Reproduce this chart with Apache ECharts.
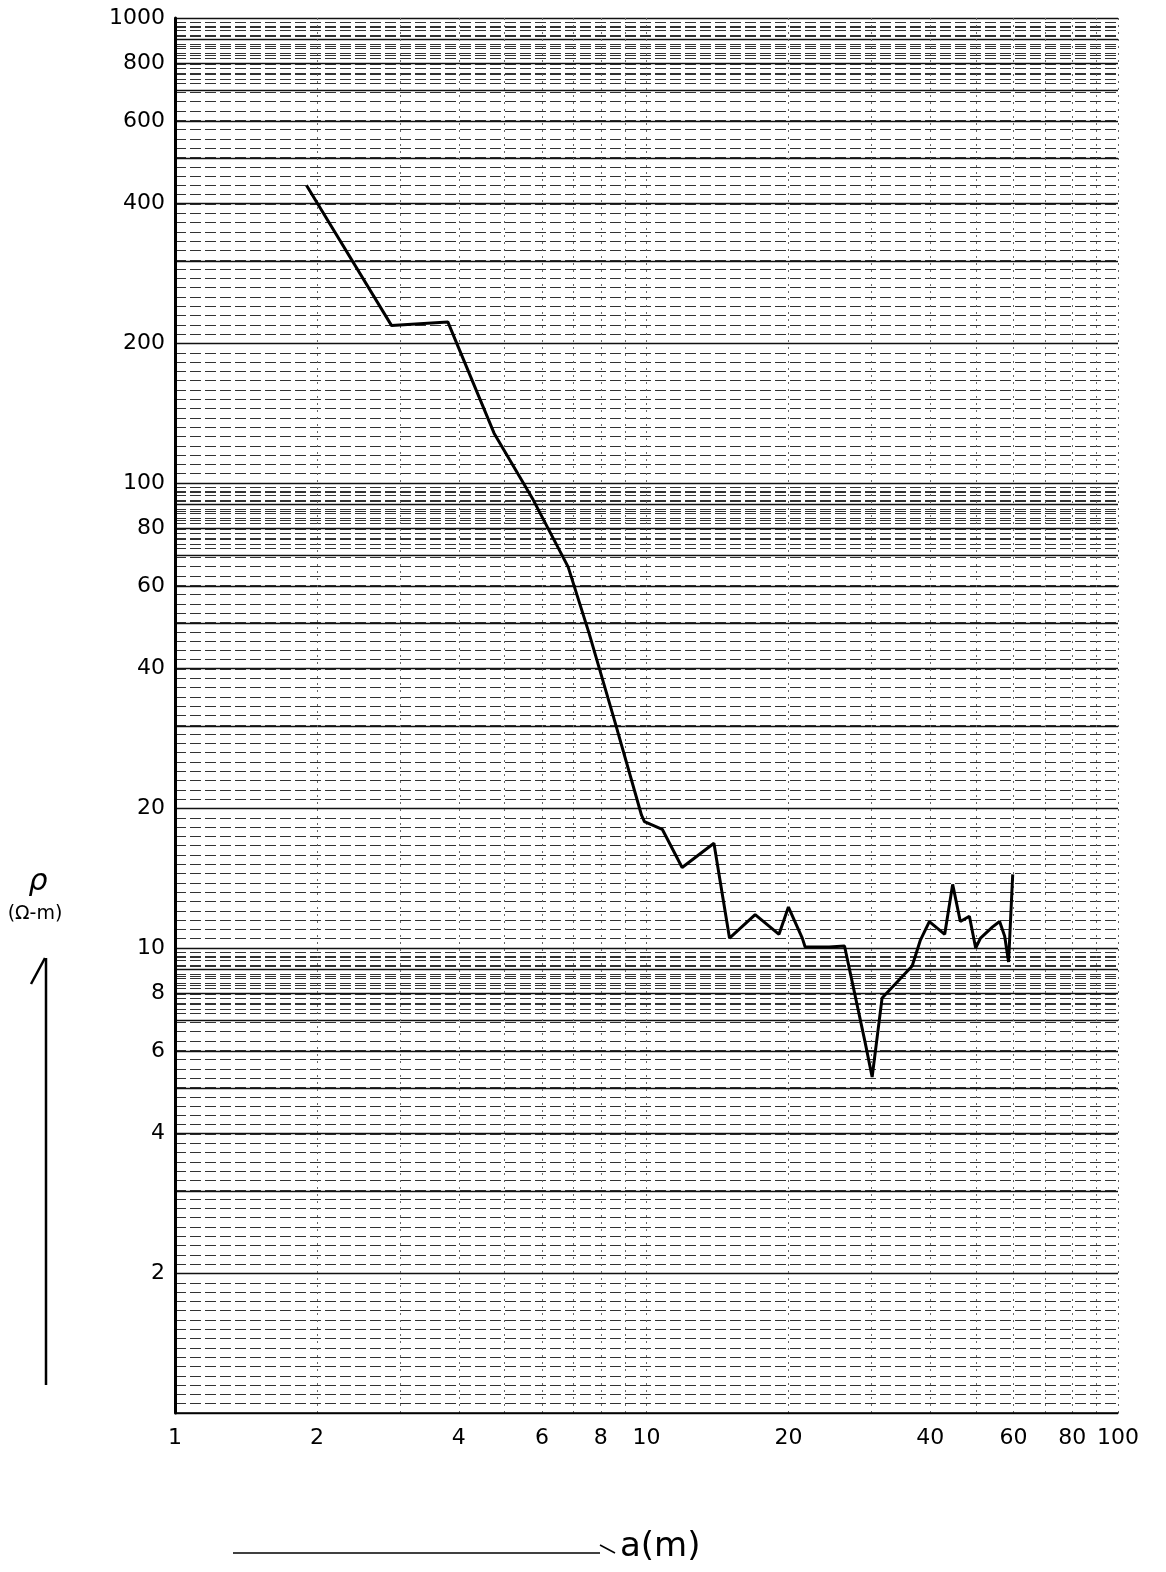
<!DOCTYPE html>
<html>
<head>
<meta charset="utf-8">
<script src="https://cdn.jsdelivr.net/npm/echarts@6/dist/echarts.min.js"></script>
<style>
  html, body { margin: 0; padding: 0; background: #fff; }
  #chart { width: 1166px; height: 1572px; }
</style>
</head>
<body>
<div id="chart"></div>
<script>
// Electrode spacing a (m) and apparent resistivity rho (ohm-m)
const spacingA = [1.90, 2.88, 3.79, 4.75, 5.75, 6.82, 7.55, 8.55, 9.76, 9.9,
  10.8, 11.9, 13.9, 15.0, 17.0, 19.1, 20.0, 21.4, 21.7, 24.4,
  26.3, 29.1, 30.1, 31.6, 36.6, 38.1, 39.8, 42.9, 44.6, 46.3,
  48.4, 49.9, 51.1, 54.2, 56.1, 57.5, 58.6, 59.8];
const resistivity = [437, 218, 222, 128, 92, 66, 47.6, 30.9, 19.3, 18.7,
  18.0, 14.9, 16.8, 10.5, 11.8, 10.7, 12.25, 10.5, 10.05, 10.05,
  10.1, 6.25, 5.28, 7.81, 9.15, 10.4, 11.4, 10.7, 13.7, 11.4,
  11.7, 10.0, 10.5, 11.1, 11.4, 10.6, 9.33, 14.4];

// Tick labels
const xTickLabels = [1, 2, 4, 6, 8, 10, 20, 40, 60, 80, 100];
const yTickLabels = [2, 4, 6, 8, 10, 20, 40, 60, 80, 100, 200, 400, 600, 800, 1000];

// Log-paper ruling
const decades = [1, 10, 100];
const ruleSolid = [];
decades.forEach(d => { for (let k = 1; k <= 9; k++) ruleSolid.push(k * d); });
ruleSolid.push(1000);
const ruleDashed = [];
for (let i = 0; i <= 150; i++) ruleDashed.push(Math.pow(10, i / 50));
[10, 100, 1000].forEach(d => { for (let f = 0.74; f < 0.99; f += 0.02) ruleDashed.push(+(f * d).toFixed(4)); });
const ruleVertical = [];
[1, 10].forEach(d => { for (let k = 2; k <= 10; k++) ruleVertical.push(k * d); });

const FONT = 'DejaVu Sans';
const chart = echarts.init(document.getElementById('chart'), null, { renderer: 'canvas' });

const hiddenAxis = {
  axisLine: { show: false },
  axisTick: { show: false },
  axisLabel: { show: false }
};
const plainNumber = v => String(Math.round(v * 1000) / 1000);

chart.setOption({
  backgroundColor: '#fff',
  animation: false,
  grid: { left: 175, right: 48, top: 18, bottom: 159, outerBoundsMode: 'none', containLabel: false },
  xAxis: [
    {
      type: 'log', logBase: 10, min: 1, max: 100, position: 'bottom',
      axisLine: { show: true, lineStyle: { color: '#000', width: 1.5 } },
      axisTick: { show: false },
      axisLabel: { customValues: xTickLabels, formatter: plainNumber, margin: 14, fontSize: 22, fontFamily: FONT, color: '#000' },
      splitLine: { show: false }
    },
    Object.assign({
      type: 'log', logBase: 10, min: 1, max: 100, position: 'top',
      splitLine: { show: true, lineStyle: { color: '#666', width: 1, type: [2, 5] } }
    }, hiddenAxis, { axisTick: { show: false, customValues: ruleVertical } })
  ],
  yAxis: [
    {
      type: 'log', logBase: 10, min: 1, max: 1000, position: 'left',
      axisLine: { show: true, lineStyle: { color: '#000', width: 3 } },
      axisTick: { show: false },
      axisLabel: { customValues: yTickLabels, formatter: plainNumber, margin: 10, fontSize: 22, fontFamily: FONT, color: '#000' },
      splitLine: { show: false }
    },
    Object.assign({
      type: 'log', logBase: 10, min: 1, max: 1000, position: 'right',
      splitLine: { show: true, lineStyle: { color: '#333', width: 1, type: [11, 4] } }
    }, hiddenAxis, { axisTick: { show: false, customValues: ruleDashed } }),
    Object.assign({
      type: 'log', logBase: 10, min: 1, max: 1000, position: 'right',
      splitLine: { show: true, lineStyle: { color: '#111', width: 1.3, type: 'solid' } }
    }, hiddenAxis, { axisTick: { show: false, customValues: ruleSolid } })
  ],
  series: [
    {
      type: 'line',
      xAxisIndex: 0, yAxisIndex: 0,
      data: spacingA.map((a, i) => [a, resistivity[i]]),
      showSymbol: false,
      smooth: false,
      lineStyle: { color: '#000', width: 3 },
      z: 10
    }
  ],
  graphic: [
    { type: 'text', x: 38, y: 882, style: { text: 'ρ', font: 'italic 30px "DejaVu Sans"', fill: '#000', textAlign: 'center', textVerticalAlign: 'middle' } },
    { type: 'text', x: 35, y: 914, style: { text: '(Ω-m)', font: '19px "DejaVu Sans"', fill: '#000', textAlign: 'center', textVerticalAlign: 'middle' } },
    { type: 'line', shape: { x1: 46, y1: 958, x2: 46, y2: 1385 }, style: { stroke: '#000', lineWidth: 2.5 } },
    { type: 'line', shape: { x1: 45, y1: 958, x2: 31, y2: 984 }, style: { stroke: '#000', lineWidth: 2.5 } },
    { type: 'line', shape: { x1: 233, y1: 1553, x2: 600, y2: 1553 }, style: { stroke: '#000', lineWidth: 1.5 } },
    { type: 'line', shape: { x1: 600, y1: 1545, x2: 615, y2: 1553 }, style: { stroke: '#000', lineWidth: 1.5 } },
    { type: 'text', x: 620, y: 1547, style: { text: 'a(m)', font: '34px "DejaVu Sans"', fill: '#000', textAlign: 'left', textVerticalAlign: 'middle' } }
  ]
});
</script>
</body>
</html>
